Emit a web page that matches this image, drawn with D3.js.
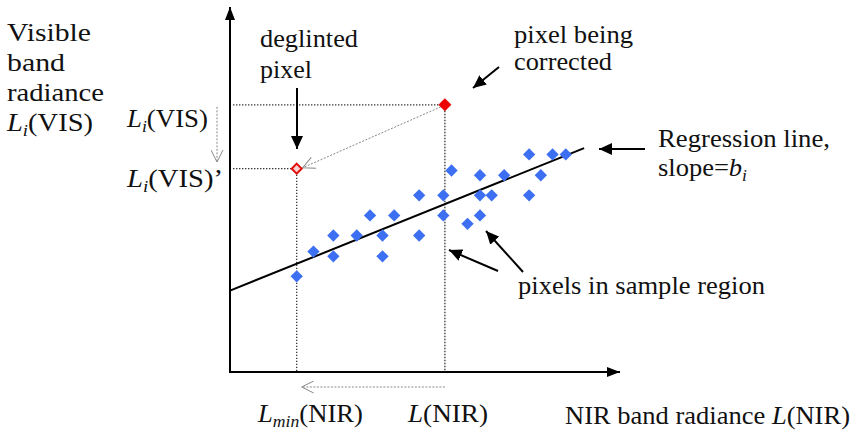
<!DOCTYPE html>
<html><head><meta charset="utf-8">
<script src="https://cdn.jsdelivr.net/npm/d3@7"></script>
<style>html,body{margin:0;padding:0;background:#fff;}svg{display:block;}
text{font-family:"Liberation Serif","Tinos","Times New Roman",Times,serif;}</style>
</head><body>
<script>
// ---- data (arbitrary radiance units, 0..100 on each axis) ----
const sampleNIR = [17.1,21.4,26.5,26.5,32.5,35.9,39.1,39.1,42.1,48.5,48.5,54.7,54.7,56.8,60.9,64.1,64.1,64.1,67.1,70.3,76.7,76.7,79.7,82.7,86.1];
const sampleVIS = [26.2,33.0,37.4,31.7,37.4,42.9,37.4,31.7,42.9,48.4,37.4,48.4,42.9,55.2,40.6,53.9,48.4,42.9,48.4,53.9,59.6,48.4,53.9,59.6,59.6];
const correctedPixel = [55.1, 73.2];   // [NIR, VIS]
const deglintedPixel = [17.1, 55.7];   // [NIR_min, VIS']
const regression = {intercept: 22.3, slope: 0.43, xEnd: 90.8};
const axisMax = 100;

const W = 851, H = 432;
const x = d3.scaleLinear().domain([0, axisMax]).range([230, 620]);
const y = d3.scaleLinear().domain([0, axisMax]).range([372, 7]);

const svg = d3.select("body").append("svg").attr("width", W).attr("height", H);
const defs = svg.append("defs");
function marker(id, path, len, wid, fill, stroke, refX) {
  defs.append("marker").attr("id", id).attr("viewBox", `0 0 ${len} ${wid}`)
    .attr("refX", refX == null ? len : refX).attr("refY", wid/2).attr("markerWidth", len).attr("markerHeight", wid)
    .attr("markerUnits", "userSpaceOnUse").attr("orient", "auto")
    .append("path").attr("d", path).attr("fill", fill).attr("stroke", stroke || "none")
    .attr("stroke-width", 1);
}
marker("axisHead", "M0,0 L13,5 L0,10 Z", 13, 10, "#000");
marker("blackHead", "M0,0 L13,6 L0,12 Z", 13, 12, "#000");
marker("openHead", "M0.5,0.5 L12.5,6.5 L0.5,12.5", 13, 13, "none", "#888", 12.5);

// ---- axes ----
svg.append("line").attr("x1", x(0)-1).attr("y1", y(0)).attr("x2", x(axisMax)).attr("y2", y(0))
  .attr("stroke", "#000").attr("stroke-width", 2).attr("marker-end", "url(#axisHead)");
svg.append("line").attr("x1", x(0)).attr("y1", y(0)+1).attr("x2", x(0)).attr("y2", y(axisMax))
  .attr("stroke", "#000").attr("stroke-width", 2).attr("marker-end", "url(#axisHead)");

// ---- dotted guides ----
const dot = {stroke: "#333", "stroke-width": 1.3, "stroke-dasharray": "1.4,1.6"};
function dline(x1,y1,x2,y2,st){const l=svg.append("line").attr("x1",x1).attr("y1",y1).attr("x2",x2).attr("y2",y2);for(const k in st)l.attr(k,st[k]);return l;}
dline(x(0)+3, y(correctedPixel[1]), x(correctedPixel[0]), y(correctedPixel[1]), dot);
dline(x(correctedPixel[0]), y(correctedPixel[1]), x(correctedPixel[0]), y(0), dot);
dline(x(0)+3, y(deglintedPixel[1]), x(deglintedPixel[0]), y(deglintedPixel[1]), dot);
dline(x(deglintedPixel[0]), y(deglintedPixel[1]), x(deglintedPixel[0]), y(0), dot);

// gray dotted arrows
const gdot = {stroke: "#888", "stroke-width": 1, "stroke-dasharray": "2,1.5"};
dline(x(correctedPixel[0])-4, y(correctedPixel[1])+2, x(deglintedPixel[0])+6, y(deglintedPixel[1])-1, gdot).attr("marker-end","url(#openHead)");
dline(x(correctedPixel[0]), 387, x(deglintedPixel[0])+5, 387, gdot).attr("marker-end","url(#openHead)");
dline(217, y(correctedPixel[1])+2, 217, 162, gdot).attr("marker-end","url(#openHead)");

// ---- regression line ----
svg.append("line").attr("x1", x(0)).attr("y1", y(regression.intercept))
  .attr("x2", x(regression.xEnd)).attr("y2", y(regression.intercept + regression.slope*regression.xEnd))
  .attr("stroke", "#000").attr("stroke-width", 2);

// ---- sample pixels ----
svg.append("g").selectAll("path").data(sampleNIR).join("path")
  .attr("d", d3.symbol().type(d3.symbolSquare).size(76))
  .attr("transform", (d,i) => `translate(${x(d)},${y(sampleVIS[i])}) rotate(45)`)
  .attr("fill", "#3d6ff2");

// corrected pixel (red filled)
svg.append("path").attr("d", d3.symbol().type(d3.symbolSquare).size(84))
  .attr("transform", `translate(${x(correctedPixel[0])},${y(correctedPixel[1])}) rotate(45)`)
  .attr("fill", "#ee0000");
// deglinted pixel (red outline)
svg.append("path").attr("d", d3.symbol().type(d3.symbolSquare).size(50))
  .attr("transform", `translate(${x(deglintedPixel[0])},${y(deglintedPixel[1])}) rotate(45)`)
  .attr("fill", "#fbd0d0").attr("stroke", "#e01010").attr("stroke-width", 2);

// ---- black annotation arrows ----
const ar = {stroke: "#000", "stroke-width": 2};
dline(297, 88, 297, 149, ar).attr("marker-end","url(#blackHead)");
dline(499, 67, 473, 88, ar).attr("marker-end","url(#blackHead)");
dline(645, 149, 599, 149, ar).attr("marker-end","url(#blackHead)");
dline(498, 271, 449, 250, ar).attr("marker-end","url(#blackHead)");
dline(523, 272, 486, 231, ar).attr("marker-end","url(#blackHead)");

// ---- text ----
const FS = 25;
function txt(xp, yp, parts, len) {
  const t = svg.append("text").attr("x", xp).attr("y", yp)
    .attr("font-size", FS).attr("fill", "#111");
  parts.forEach(p => {
    const s = t.append("tspan").text(p.t);
    if (p.i) s.attr("font-style", "italic");
    if (p.sub) s.attr("font-size", FS*0.66).attr("dy", 5);
    if (p.up) s.attr("dy", -5);
  });
  if (len) t.attr("textLength", len).attr("lengthAdjust", "spacingAndGlyphs");
  return t;
}
const leftTitle = ["Visible", "band", "radiance"];
const leftTitleY = [41, 71, 101];
const leftTitleW = [84, 58, 97];
leftTitle.forEach((s,i) => txt(7, leftTitleY[i], [{t:s}], leftTitleW[i]));
txt(7, 131, [{t:"L",i:1},{t:"i",i:1,sub:1},{t:"(VIS)",up:1}], 86);

txt(127, 127, [{t:"L",i:1},{t:"i",i:1,sub:1},{t:"(VIS)",up:1}], 81);
txt(127, 187, [{t:"L",i:1},{t:"i",i:1,sub:1},{t:"(VIS)\u2019",up:1}], 96);

txt(260, 47, [{t:"deglinted"}], 98);
txt(260, 78, [{t:"pixel"}], 52);
txt(514, 43, [{t:"pixel being"}], 119);
txt(514, 70, [{t:"corrected"}], 98);
txt(658, 147, [{t:"Regression line,"}], 172);
txt(658, 176, [{t:"slope="},{t:"b",i:1},{t:"i",i:1,sub:1}], 89);
txt(518, 294, [{t:"pixels in sample region"}], 247);

txt(258, 422, [{t:"L",i:1},{t:"min",i:1,sub:1},{t:"(NIR)",up:1}], 105);
txt(408, 422, [{t:"L",i:1},{t:"(NIR)"}], 80);
txt(565, 424, [{t:"NIR band radiance "},{t:"L",i:1},{t:"(NIR)"}], 285);
</script>
</body></html>
